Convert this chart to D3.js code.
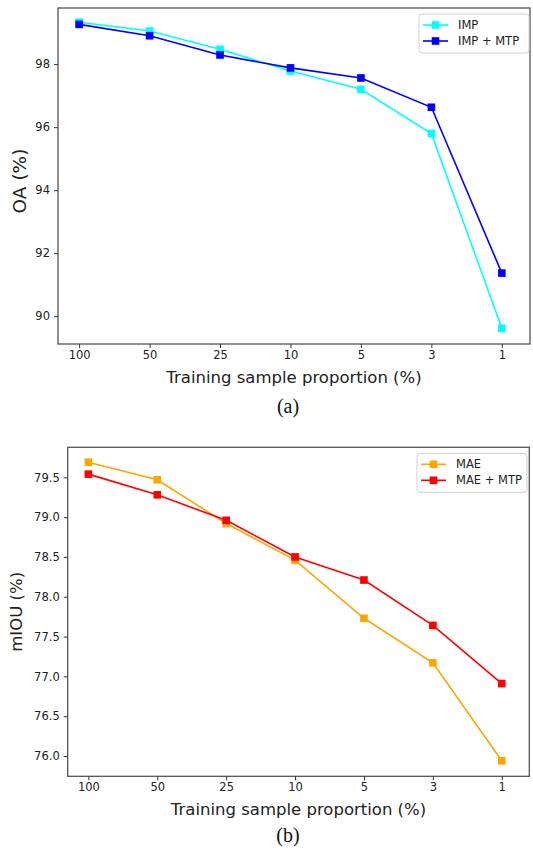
<!DOCTYPE html>
<html>
<head>
<meta charset="utf-8">
<script src="https://cdn.jsdelivr.net/npm/d3@7"></script>
<style>
  body { margin: 0; background: #fff; }
  svg { display: block; }
  text { font-family: "DejaVu Sans", sans-serif; }
</style>
</head>
<body>
<div id="chart"></div>
<script>
// categories shared by both panels
const proportions = ['100', '50', '25', '10', '5', '3', '1'];

// panel (a) - OA
const impOA = [99.33, 99.05, 98.47, 97.78, 97.2, 95.8, 89.62];
const impMtpOA = [99.26, 98.9, 98.29, 97.88, 97.56, 96.63, 91.37];
const oaTicks = [90, 92, 94, 96, 98];

// panel (b) - mIOU
const maeMIOU = [79.69, 79.47, 78.92, 78.46, 77.73, 77.17, 75.94];
const maeMtpMIOU = [79.54, 79.28, 78.96, 78.5, 78.21, 77.64, 76.91];
const miouTicks = [76.0, 76.5, 77.0, 77.5, 78.0, 78.5, 79.0, 79.5];

const W = 533, H = 848;

const svg = d3.select('#chart')
    .append('svg')
    .attr('width', W)
    .attr('height', H);

function drawPanel(cfg) {
    const x = d3.scaleLinear()
        .domain([-0.3, proportions.length - 0.6])
        .range([cfg.left, cfg.right]);

    const y = d3.scaleLinear()
        .domain(cfg.yDomain)
        .range([cfg.bottom, cfg.top]);

    const g = svg.append('g');

    // frame
    g.append('rect')
        .attr('x', cfg.left)
        .attr('y', cfg.top)
        .attr('width', cfg.right - cfg.left)
        .attr('height', cfg.bottom - cfg.top)
        .attr('fill', 'none')
        .attr('stroke', '#555')
        .attr('stroke-width', 1.3);

    // x axis
    const xAxis = g.append('g')
        .attr('transform', `translate(0,${cfg.bottom})`)
        .call(d3.axisBottom(x)
            .tickValues(d3.range(proportions.length))
            .tickFormat(i => proportions[i])
            .tickSize(4)
            .tickPadding(3));
    xAxis.select('.domain').remove();

    // y axis
    const yAxis = g.append('g')
        .attr('transform', `translate(${cfg.left},0)`)
        .call(d3.axisLeft(y)
            .tickValues(cfg.yTicks)
            .tickFormat(cfg.fmt)
            .tickSize(4)
            .tickPadding(4));
    yAxis.select('.domain').remove();

    g.selectAll('.tick line').attr('stroke', '#333');
    g.selectAll('.tick text')
        .attr('fill', '#222')
        .style('font-size', '11.5px')
        .style('font-family', '"DejaVu Sans", sans-serif');

    // axis labels
    g.append('text')
        .attr('x', (cfg.left + cfg.right) / 2)
        .attr('y', cfg.bottom + 38.5)
        .attr('text-anchor', 'middle')
        .attr('fill', '#222')
        .style('font-size', '16.5px')
        .text('Training sample proportion (%)');

    g.append('text')
        .attr('transform', `translate(${cfg.yLabelX},${(cfg.top + cfg.bottom) / 2 + cfg.yLabelShift}) rotate(-90)`)
        .attr('text-anchor', 'middle')
        .attr('fill', '#222')
        .style('font-size', cfg.yLabelSize + 'px')
        .text(cfg.yLabel);

    // caption
    g.append('text')
        .attr('x', 288)
        .attr('y', cfg.bottom + cfg.captionOffset)
        .attr('text-anchor', 'middle')
        .attr('fill', '#111')
        .style('font-family', '"Liberation Serif", "Times New Roman", serif')
        .style('font-size', '20px')
        .text(cfg.caption);

    const line = d3.line()
        .x((d, i) => x(i))
        .y(d => y(d));

    // series
    cfg.series.forEach(s => {
        g.append('path')
            .datum(s.values)
            .attr('fill', 'none')
            .attr('stroke', s.color)
            .attr('stroke-width', 1.6)
            .attr('d', line);

        g.selectAll(null)
            .data(s.values)
            .enter()
            .append('rect')
            .attr('x', (d, i) => x(i) - 3.8)
            .attr('y', d => y(d) - 3.8)
            .attr('width', 7.6)
            .attr('height', 7.6)
            .attr('fill', s.color);
    });

    // legend
    const lg = g.append('g')
        .attr('transform', `translate(${cfg.legendX},${cfg.top + 6})`);

    lg.append('rect')
        .attr('x', 0)
        .attr('y', 0)
        .attr('width', 110)
        .attr('height', 39)
        .attr('rx', 3)
        .attr('fill', '#fff')
        .attr('fill-opacity', 0.8)
        .attr('stroke', '#d0d0d0')
        .attr('stroke-width', 1);

    cfg.series.forEach((s, i) => {
        const cy = 11 + i * 16;
        lg.append('line')
            .attr('x1', 4)
            .attr('x2', 29)
            .attr('y1', cy)
            .attr('y2', cy)
            .attr('stroke', s.color)
            .attr('stroke-width', 1.6);
        lg.append('rect')
            .attr('x', 16.5 - 3.8)
            .attr('y', cy - 3.8)
            .attr('width', 7.6)
            .attr('height', 7.6)
            .attr('fill', s.color);
        lg.append('text')
            .attr('x', 39)
            .attr('y', cy + 4.2)
            .attr('fill', '#222')
            .style('font-size', '11.5px')
            .text(s.name);
    });
}

drawPanel({
    left: 58, right: 530, top: 8, bottom: 344,
    yDomain: [89.12, 99.78],
    yTicks: oaTicks,
    fmt: d3.format('d'),
    yLabel: 'OA (%)',
    yLabelX: 25.5,
    yLabelSize: 18.5,
    yLabelShift: 5,
    caption: '(a)',
    captionOffset: 69,
    legendX: 419,
    series: [
        { name: 'IMP', values: impOA, color: '#00ffff' },
        { name: 'IMP + MTP', values: impMtpOA, color: '#0000ff' }
    ]
});

drawPanel({
    left: 67.7, right: 529.3, top: 447.3, bottom: 776.3,
    yDomain: [75.745, 79.877],
    yTicks: miouTicks,
    fmt: d3.format('.1f'),
    yLabel: 'mIOU (%)',
    yLabelX: 22,
    yLabelSize: 16.5,
    yLabelShift: 0,
    caption: '(b)',
    captionOffset: 65.5,
    legendX: 417,
    series: [
        { name: 'MAE', values: maeMIOU, color: '#ffa500' },
        { name: 'MAE + MTP', values: maeMtpMIOU, color: '#ff0000' }
    ]
});
</script>
</body>
</html>
